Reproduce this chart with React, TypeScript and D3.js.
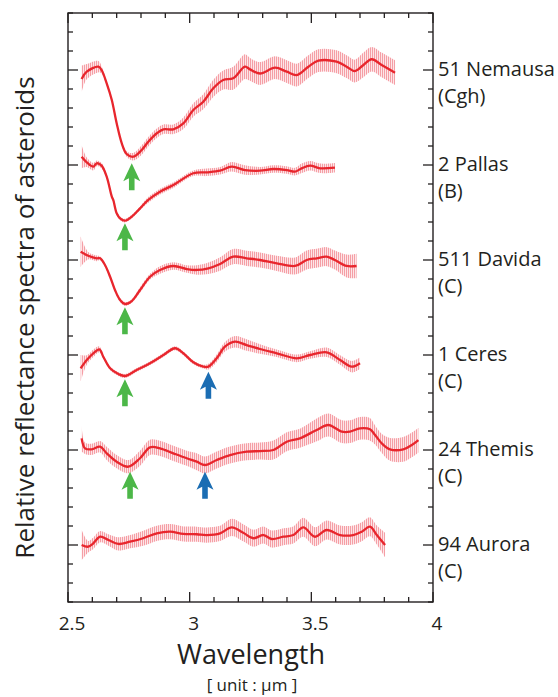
import React from "react";
import * as d3 from "d3";

// ---- data (relative reflectance, offset units; 1 unit = spacing between spectra) ----
const names = ["51 Nemausa", "2 Pallas", "511 Davida", "1 Ceres", "24 Themis", "94 Aurora"];
const types = ["(Cgh)", "(B)", "(C)", "(C)", "(C)", "(C)"];
const offsets = [5, 4, 3, 2, 1, 0];

const nemausaWl = [2.556,2.577,2.625,2.638,2.659,2.680,2.700,2.721,2.741,2.768,2.803,2.830,2.865,2.892,2.933,2.974,3.015,3.056,3.097,3.138,3.179,3.227,3.248,3.289,3.351,3.399,3.440,3.488,3.529,3.604,3.645,3.679,3.714,3.748,3.789,3.844];
const nemausaVal = [-0.095,-0.018,0.035,0,-0.14,-0.316,-0.561,-0.772,-0.884,-0.913,-0.842,-0.755,-0.666,-0.624,-0.624,-0.561,-0.421,-0.334,-0.193,-0.105,-0.087,0.035,0.007,-0.037,0.024,-0.018,-0.053,0.035,0.098,0.087,0.035,-0.011,0.053,0.113,0.053,-0.028];
const nemausaErr = [0.14,0.08,0.06,0.04,0.02,0.02,0.02,0.02,0.03,0.04,0.05,0.05,0.05,0.05,0.05,0.06,0.07,0.08,0.09,0.1,0.12,0.13,0.12,0.12,0.12,0.12,0.12,0.12,0.12,0.12,0.12,0.12,0.13,0.13,0.13,0.13];

const pallasWl = [2.556,2.577,2.604,2.618,2.638,2.659,2.680,2.686,2.700,2.714,2.734,2.762,2.796,2.830,2.878,2.933,3.015,3.070,3.125,3.173,3.227,3.289,3.344,3.399,3.433,3.460,3.495,3.536,3.597];
const pallasVal = [0.087,0.028,-0.018,0.018,-0.007,-0.123,-0.334,-0.368,-0.508,-0.561,-0.586,-0.544,-0.456,-0.368,-0.281,-0.211,-0.087,-0.077,-0.060,-0.018,-0.053,-0.060,-0.042,-0.053,-0.07,-0.035,-0.007,-0.035,-0.028];
const pallasErr = [0.12,0.05,0.04,0.03,0.03,0.02,0.02,0.02,0.02,0.02,0.02,0.02,0.02,0.03,0.03,0.03,0.03,0.04,0.04,0.05,0.05,0.04,0.04,0.04,0.04,0.05,0.05,0.05,0.05];

const davidaWl = [2.552,2.583,2.618,2.632,2.652,2.673,2.693,2.714,2.734,2.762,2.796,2.837,2.878,2.933,2.988,3.029,3.077,3.125,3.179,3.234,3.289,3.358,3.433,3.481,3.522,3.563,3.597,3.645,3.686];
const davidaVal = [0.087,0.045,0.018,0.018,-0.053,-0.176,-0.316,-0.421,-0.463,-0.432,-0.316,-0.176,-0.105,-0.063,-0.095,-0.105,-0.087,-0.042,0.035,0.018,0,-0.035,-0.063,0,0.018,0.035,0,-0.063,-0.063];
const davidaErr = [0.16,0.04,0.03,0.02,0.02,0.02,0.02,0.02,0.02,0.02,0.03,0.03,0.04,0.04,0.04,0.05,0.06,0.07,0.08,0.08,0.08,0.08,0.09,0.1,0.1,0.1,0.1,0.12,0.13];

const ceresWl = [2.552,2.577,2.604,2.629,2.645,2.673,2.707,2.734,2.782,2.837,2.892,2.940,2.974,3.015,3.056,3.077,3.111,3.145,3.186,3.234,3.289,3.358,3.440,3.495,3.563,3.618,3.666,3.700];
const ceresVal = [-0.14,-0.053,0.018,0.06,-0.018,-0.14,-0.2,-0.221,-0.158,-0.087,0,0.071,0.018,-0.077,-0.123,-0.123,-0.035,0.087,0.14,0.105,0.063,0.018,-0.035,0,0.028,-0.053,-0.123,-0.087];
const ceresErr = [0.14,0.05,0.04,0.03,0.02,0.02,0.02,0.02,0.02,0.02,0.02,0.02,0.02,0.02,0.02,0.03,0.04,0.05,0.06,0.06,0.05,0.04,0.04,0.04,0.05,0.05,0.06,0.06];

const themisWl = [2.556,2.570,2.597,2.632,2.659,2.700,2.748,2.796,2.837,2.878,2.933,2.988,3.029,3.063,3.111,3.166,3.234,3.289,3.344,3.399,3.453,3.522,3.570,3.625,3.659,3.700,3.741,3.762,3.789,3.823,3.878,3.913,3.940];
const themisVal = [0.123,0.018,0.007,0.035,-0.035,-0.123,-0.176,-0.087,0.028,0.018,-0.035,-0.087,-0.123,-0.158,-0.105,-0.053,-0.018,-0.011,0,0.087,0.123,0.211,0.263,0.193,0.193,0.228,0.218,0.158,0.071,0.007,0.007,0.053,0.105];
const themisErr = [0.14,0.06,0.06,0.06,0.07,0.07,0.07,0.08,0.08,0.08,0.08,0.08,0.09,0.09,0.09,0.09,0.09,0.09,0.1,0.1,0.1,0.12,0.12,0.12,0.12,0.12,0.12,0.1,0.1,0.12,0.13,0.13,0.13];

const auroraWl = [2.556,2.583,2.604,2.632,2.666,2.707,2.755,2.809,2.865,2.919,2.974,3.029,3.070,3.125,3.173,3.220,3.262,3.303,3.337,3.385,3.426,3.467,3.515,3.563,3.618,3.672,3.707,3.741,3.769,3.803];
const auroraVal = [0,-0.018,0.018,0.087,0.053,0.011,0.035,0.071,0.123,0.14,0.116,0.113,0.105,0.123,0.186,0.129,0.071,0.105,0.063,0.087,0.105,0.186,0.087,0.158,0.105,0.105,0.14,0.193,0.105,0];
const auroraErr = [0.16,0.06,0.06,0.06,0.06,0.07,0.07,0.08,0.08,0.08,0.08,0.08,0.08,0.08,0.09,0.09,0.09,0.09,0.09,0.09,0.09,0.1,0.1,0.1,0.1,0.1,0.1,0.1,0.1,0.13];

// absorption-band arrows: series index, wavelength, tip (relative units), colour
const arrowSeries = [0, 1, 2, 3, 3, 4, 4];
const arrowWl = [2.762, 2.734, 2.734, 2.734, 3.077, 2.755, 3.063];
const arrowTip = [-0.982, -0.614, -0.498, -0.256, -0.176, -0.228, -0.228];
const arrowKind = ["g", "g", "g", "g", "b", "g", "b"];

const xTickLabels = ["2.5", "3", "3.5", "4"];

const seriesWl = [nemausaWl, pallasWl, davidaWl, ceresWl, themisWl, auroraWl];
const seriesVal = [nemausaVal, pallasVal, davidaVal, ceresVal, themisVal, auroraVal];
const seriesErr = [nemausaErr, pallasErr, davidaErr, ceresErr, themisErr, auroraErr];

const W = 558, H = 697;
const L = 68, R = 433, T = 13, B = 602;
const FONT = "'Open Sans', 'Noto Sans', sans-serif";

export default function App() {
  const x = d3.scaleLinear().domain([2.5, 4]).range([L, R]);
  const y = d3.scaleLinear().domain([-0.6, 5.6]).range([B, T]);

  const xMinor = d3.range(25, 41).map((v) => v / 10);
  const yMinor = d3.range(-3, 29).map((v) => v / 5);
  const isMajorX = (v: number) => Math.abs(v * 2 - Math.round(v * 2)) < 1e-6;
  const isMajorY = (v: number) => Math.abs(v - Math.round(v)) < 1e-6;

  const series = seriesWl.map((wl, i) =>
    wl.map((w, j) => ({ w, v: seriesVal[i][j] + offsets[i], e: seriesErr[i][j] }))
  );
  type P = { w: number; v: number; e: number };
  const curve = d3.curveCatmullRom.alpha(0.5);
  const line = d3.line<P>().x((d) => x(d.w)).y((d) => y(d.v)).curve(curve);
  const area = d3
    .area<P>()
    .x((d) => x(d.w))
    .y0((d) => y(d.v - d.e))
    .y1((d) => y(d.v + d.e))
    .curve(curve);

  const arrowPath = "M0,0 L8.5,18 L2.8,15 L2.8,27 L-2.8,27 L-2.8,15 L-8.5,18 Z";

  return (
    <svg width={W} height={H} style={{ position: "absolute", left: 0, top: 0 }} fontFamily={FONT}>
      <defs>
        <pattern id="vbars" patternUnits="userSpaceOnUse" width={2} height={10}>
          <rect x={0} y={0} width={2} height={10} fill="#fde3e5" />
          <rect x={0} y={0} width={1} height={10} fill="#f4939b" />
        </pattern>
      </defs>
      <rect x={0} y={0} width={W} height={H} fill="#fff" />

      {/* error bands */}
      {series.map((s, i) => (
        <path key={"a" + i} d={area(s) || ""} fill="url(#vbars)" opacity={0.9} />
      ))}
      {/* spectra */}
      {series.map((s, i) => (
        <path key={"l" + i} d={line(s) || ""} fill="none" stroke="#e8262d" strokeWidth={2.3} strokeLinejoin="round" />
      ))}

      {/* arrows */}
      {arrowSeries.map((si, k) => (
        <path
          key={"ar" + k}
          d={arrowPath}
          transform={`translate(${x(arrowWl[k])},${y(offsets[si] + arrowTip[k])})`}
          fill={arrowKind[k] === "g" ? "#4cb748" : "#1b6db3"}
        />
      ))}

      {/* frame */}
      <rect x={L} y={T} width={R - L} height={B - T} fill="none" stroke="#231f20" strokeWidth={1.4} />
      {xMinor.map((v, i) => {
        const len = isMajorX(v) ? 10 : 5;
        return (
          <g key={"xt" + i} stroke="#231f20" strokeWidth={1.3}>
            <line x1={x(v)} x2={x(v)} y1={B} y2={B - len} />
            <line x1={x(v)} x2={x(v)} y1={T} y2={T + len} />
          </g>
        );
      })}
      {yMinor.map((v, i) => {
        const len = isMajorY(v) ? 10 : 5;
        return (
          <g key={"yt" + i} stroke="#231f20" strokeWidth={1.3}>
            <line x1={L} x2={L + len} y1={y(v)} y2={y(v)} />
            <line x1={R} x2={R - len} y1={y(v)} y2={y(v)} />
          </g>
        );
      })}

      {/* x tick labels */}
      {xTickLabels.map((t) => (
        <text key={t} x={x(+t) + 4} y={630} textAnchor="middle" fontSize={19} fill="#231f20">
          {t}
        </text>
      ))}

      {/* spectrum labels */}
      {names.map((n, i) => (
        <text key={n} x={438} y={y(offsets[i]) + 6} fontSize={20} fill="#231f20">
          <tspan x={438}>{n}</tspan>
          <tspan x={438} dy={27}>{types[i]}</tspan>
        </text>
      ))}

      {/* axis titles */}
      <text x={251} y={664} textAnchor="middle" fontSize={27} fill="#231f20">
        Wavelength
      </text>
      <text x={252} y={691} textAnchor="middle" fontSize={17} fill="#231f20">
        [ unit : μm ]
      </text>
      <text
        transform={`translate(34,${(T + B) / 2 + 10}) rotate(-90)`}
        textAnchor="middle"
        fontSize={26}
        fill="#231f20"
      >
        Relative reflectance spectra of asteroids
      </text>
    </svg>
  );
}
